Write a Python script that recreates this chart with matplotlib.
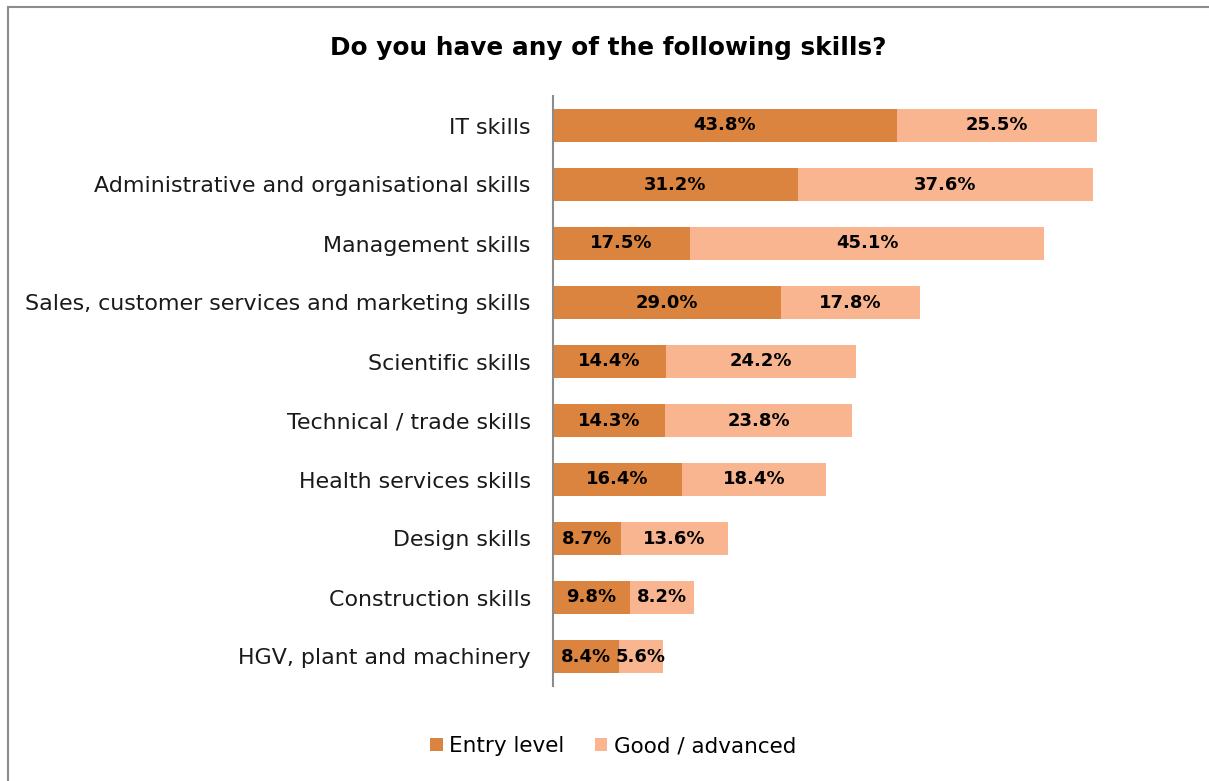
import matplotlib
matplotlib.use("Agg")
import matplotlib.pyplot as plt
from matplotlib.lines import Line2D
from matplotlib.patches import Patch

categories = [
    "IT skills",
    "Administrative and organisational skills",
    "Management skills",
    "Sales, customer services and marketing skills",
    "Scientific skills",
    "Technical / trade skills",
    "Health services skills",
    "Design skills",
    "Construction skills",
    "HGV, plant and machinery",
]
entry_level = [43.8, 31.2, 17.5, 29.0, 14.4, 14.3, 16.4, 8.7, 9.8, 8.4]
good_advanced = [25.5, 37.6, 45.1, 17.8, 24.2, 23.8, 18.4, 13.6, 8.2, 5.6]
series_names = ["Entry level", "Good / advanced"]
title = "Do you have any of the following skills?"

c_entry = "#DB843F"
c_good = "#F8B590"
font = ["DejaVu Sans"]
plt.rcParams["font.family"] = font

W, H = 1209, 781
fig = plt.figure(figsize=(W / 100, H / 100), dpi=100)

# axes placement in pixels
x0, x1 = 553, 1181
y_top, y_bot = 96, 686
ax = fig.add_axes([x0 / W, 1 - y_bot / H, (x1 - x0) / W, (y_bot - y_top) / H])

ypos = list(range(len(categories)))
bar_h = 0.57
ax.barh(ypos, entry_level, height=bar_h, color=c_entry, label=series_names[0])
ax.barh(ypos, good_advanced, left=entry_level, height=bar_h, color=c_good,
        label=series_names[1])

for y, e, g in zip(ypos, entry_level, good_advanced):
    ax.text(e / 2, y, f"{e:.1f}%", ha="center", va="center",
            fontsize=13, fontweight="bold", color="black")
    ax.text(e + g / 2, y, f"{g:.1f}%", ha="center", va="center",
            fontsize=13, fontweight="bold", color="black")

ax.set_xlim(0, 80)
ax.set_ylim(len(categories) - 0.5, -0.5)
ax.set_yticks(ypos)
ax.set_yticklabels(categories, fontsize=15.9, color="#1a1a1a")
ax.tick_params(axis="y", length=0, pad=16)
ax.set_xticks([])
for side in ["top", "right", "bottom"]:
    ax.spines[side].set_visible(False)
ax.spines["left"].set_color("#8c8c8c")
ax.spines["left"].set_linewidth(1.5)

fig.text(608 / W, 1 - 48 / H, title, ha="center", va="center",
         fontsize=17.8, fontweight="bold", color="black")

handles = [Patch(facecolor=c_entry), Patch(facecolor=c_good)]
fig.legend(handles, series_names, loc="center", bbox_to_anchor=(613 / W, 1 - 746 / H),
           ncol=2, frameon=False, fontsize=15.5, handlelength=0.6, handleheight=0.6,
           handletextpad=0.3, columnspacing=1.4)

# outer frame (left and top edges)
fig.add_artist(Line2D([8 / W, 8 / W], [0, 1 - 7 / H], transform=fig.transFigure,
                      color="#8c8c8c", lw=1.5))
fig.add_artist(Line2D([8 / W, 1], [1 - 7 / H, 1 - 7 / H], transform=fig.transFigure,
                      color="#8c8c8c", lw=1.5))

fig.savefig("out.png", dpi=100, facecolor="white")
